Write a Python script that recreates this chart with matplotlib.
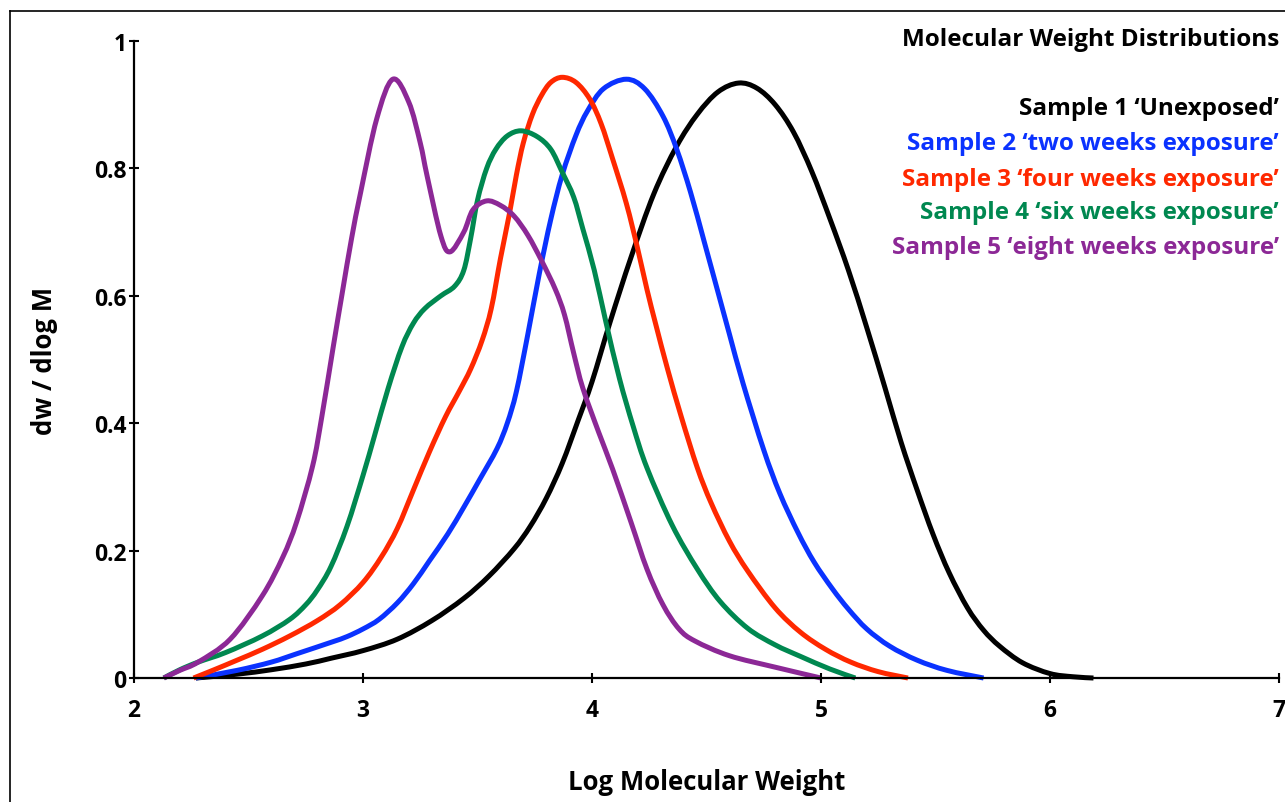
import matplotlib.pyplot as plt
from matplotlib.lines import Line2D
from matplotlib.path import Path
from matplotlib.patches import PathPatch

# curve values (log M, dw/dlogM)
s1_x = [2.27, 2.45, 2.6, 2.75, 2.86, 3.0, 3.15, 3.3, 3.44, 3.55, 3.66, 3.73, 3.80, 3.87, 3.94, 4.0,
        4.08, 4.17, 4.27, 4.37, 4.46, 4.55, 4.64, 4.72, 4.8, 4.88, 4.96, 5.04, 5.12, 5.2, 5.28,
        5.35, 5.42, 5.49, 5.56, 5.64, 5.71, 5.78, 5.88, 6.0, 6.1, 6.19]
s1_y = [0, 0.006, 0.013, 0.022, 0.031, 0.043, 0.061, 0.09, 0.125, 0.16, 0.203, 0.238, 0.282, 0.337,
        0.405, 0.465, 0.56, 0.66, 0.76, 0.835, 0.885, 0.92, 0.934, 0.926, 0.9, 0.857, 0.795, 0.72,
        0.64, 0.55, 0.455, 0.37, 0.295, 0.225, 0.165, 0.11, 0.075, 0.05, 0.024, 0.007, 0.002, 0]

s2_x = [2.27, 2.45, 2.6, 2.71, 2.86, 2.93, 3.0, 3.07, 3.15, 3.22, 3.29, 3.37, 3.44, 3.51, 3.585,
        3.63, 3.67, 3.72, 3.77, 3.82, 3.87, 3.93, 3.98, 4.05, 4.15, 4.23, 4.31, 4.37, 4.43, 4.49,
        4.55, 4.6, 4.66, 4.75, 4.82, 4.9, 4.97, 5.05, 5.12, 5.2, 5.3, 5.42, 5.55, 5.71]
s2_y = [0, 0.012, 0.025, 0.038, 0.056, 0.065, 0.077, 0.092, 0.118, 0.148, 0.184, 0.226, 0.268, 0.312,
        0.36, 0.4, 0.45, 0.54, 0.635, 0.72, 0.79, 0.852, 0.89, 0.925, 0.94, 0.925, 0.882, 0.83,
        0.763, 0.685, 0.606, 0.54, 0.462, 0.358, 0.29, 0.228, 0.182, 0.14, 0.108, 0.077, 0.05,
        0.028, 0.012, 0]

s3_x = [2.26, 2.35, 2.45, 2.56, 2.68, 2.8, 2.9, 3.0, 3.08, 3.15, 3.22, 3.29, 3.36, 3.42, 3.47,
        3.52, 3.56, 3.6, 3.64, 3.67, 3.7, 3.74, 3.78, 3.82, 3.87, 3.93, 3.99, 4.04, 4.09, 4.15,
        4.2, 4.24, 4.28, 4.33, 4.39, 4.46, 4.52, 4.6, 4.68, 4.8, 4.91, 5.02, 5.13, 5.25, 5.38]
s3_y = [0, 0.013, 0.028, 0.045, 0.066, 0.09, 0.115, 0.15, 0.19, 0.235, 0.295, 0.355, 0.41, 0.45,
        0.485, 0.53, 0.58, 0.658, 0.73, 0.79, 0.84, 0.885, 0.915, 0.935, 0.943, 0.935, 0.909, 0.87,
        0.815, 0.745, 0.673, 0.61, 0.553, 0.485, 0.41, 0.33, 0.275, 0.215, 0.168, 0.11, 0.072,
        0.045, 0.025, 0.01, 0]

s4_x = [2.13, 2.2, 2.28, 2.4, 2.56, 2.68, 2.75, 2.8, 2.86, 2.93, 3.0, 3.05, 3.11, 3.17, 3.22,
        3.27, 3.34, 3.4, 3.44, 3.47, 3.5, 3.54, 3.58, 3.63, 3.69, 3.76, 3.82, 3.87, 3.92, 3.96,
        4.01, 4.06, 4.12, 4.18, 4.24, 4.35, 4.46, 4.56, 4.68, 4.8, 4.91, 5.04, 5.15]
s4_y = [0, 0.013, 0.025, 0.04, 0.066, 0.092, 0.115, 0.138, 0.175, 0.238, 0.318, 0.38, 0.455, 0.52,
        0.557, 0.58, 0.6, 0.615, 0.64, 0.69, 0.75, 0.8, 0.83, 0.851, 0.859, 0.85, 0.83, 0.794, 0.755,
        0.705, 0.64, 0.56, 0.47, 0.395, 0.33, 0.24, 0.171, 0.12, 0.078, 0.052, 0.034, 0.014, 0]

s5_x = [2.13, 2.2, 2.28, 2.42, 2.56, 2.65, 2.71, 2.78, 2.82, 2.87, 2.91, 2.95, 2.99, 3.06, 3.13,
        3.2, 3.25, 3.28, 3.34, 3.38, 3.44, 3.48, 3.54, 3.6, 3.66, 3.72, 3.78, 3.84, 3.88, 3.92,
        3.96, 4.03, 4.09, 4.17, 4.24, 4.31, 4.38, 4.45, 4.6, 4.8, 5.0]
s5_y = [0, 0.012, 0.025, 0.061, 0.129, 0.19, 0.245, 0.333, 0.41, 0.52, 0.606, 0.69, 0.763, 0.878,
        0.94, 0.904, 0.84, 0.788, 0.694, 0.669, 0.7, 0.735, 0.749, 0.742, 0.725, 0.695, 0.655, 0.61,
        0.57, 0.51, 0.455, 0.385, 0.328, 0.245, 0.171, 0.115, 0.077, 0.058, 0.035, 0.017, 0]

labels = ["Sample 1 \u2018Unexposed\u2019",
          "Sample 2 \u2018two weeks exposure\u2019",
          "Sample 3 \u2018four weeks exposure\u2019",
          "Sample 4 \u2018six weeks exposure\u2019",
          "Sample 5 \u2018eight weeks exposure\u2019"]
colors = ["#000000", "#0a32ff", "#ff2800", "#008850", "#8c2896"]

x_ticks = [2, 3, 4, 5, 6, 7]
y_ticks = [0, 0.2, 0.4, 0.6, 0.8, 1]
y_ticklabels = ["0", "0.2", "0.4", "0.6", "0.8", "1"]


def smooth_path(xs, ys):
    # spreadsheet-style smoothed line: cubic bezier through every read point
    n = len(xs)
    verts = [(xs[0], ys[0])]
    codes = [Path.MOVETO]
    for i in range(n - 1):
        x0, y0 = (xs[i - 1], ys[i - 1]) if i > 0 else (xs[i], ys[i])
        x3, y3 = (xs[i + 2], ys[i + 2]) if i + 2 < n else (xs[i + 1], ys[i + 1])
        verts += [(xs[i] + (xs[i + 1] - x0) / 6, ys[i] + (ys[i + 1] - y0) / 6),
                  (xs[i + 1] - (x3 - xs[i]) / 6, ys[i + 1] - (y3 - ys[i]) / 6),
                  (xs[i + 1], ys[i + 1])]
        codes += [Path.CURVE4] * 3
    return Path(verts, codes)


plt.rcParams['font.family'] = ['Open Sans', 'DejaVu Sans']
plt.rcParams['font.weight'] = 'bold'

fig = plt.figure(figsize=(12.85, 8.03), dpi=100)
ax = fig.add_axes([0.1043, 0.1544, 0.891, 0.7933])

series = [(s1_x, s1_y), (s2_x, s2_y), (s3_x, s3_y), (s4_x, s4_y), (s5_x, s5_y)]
for (xs, ys), c in zip(series, colors):
    ax.add_patch(PathPatch(smooth_path(xs, ys), facecolor='none', edgecolor=c, lw=3.6,
                           capstyle='butt', joinstyle='round', clip_on=False))

ax.set_xlim(2, 7)
ax.set_ylim(0, 1)
ax.set_xticks(x_ticks)
ax.set_yticks(y_ticks)
ax.set_yticklabels(y_ticklabels)
for s in ['top', 'right']:
    ax.spines[s].set_visible(False)
for s in ['left', 'bottom']:
    ax.spines[s].set_linewidth(1.6)
ax.tick_params(axis='both', direction='inout', length=7, width=1.5, labelsize=16.5)
ax.tick_params(axis='x', pad=11)
ax.tick_params(axis='y', pad=2)

ax.set_xlabel("Log Molecular Weight", fontsize=18.5, fontweight='bold', va='center')
ax.xaxis.set_label_coords(0.5, -0.162)
ax.set_ylabel("dw / dlog M", fontsize=18.5, fontweight='bold', va='center')
ax.yaxis.set_label_coords(-0.078, 0.5)

# title and colored key, right aligned
ax.text(1.0, 1.003, "Molecular Weight Distributions", transform=ax.transAxes,
        ha='right', va='center', fontsize=17.5, fontweight='bold', color='black')
key_y = [0.895, 0.84, 0.784, 0.731, 0.676]
for lab, c, yy in zip(labels, colors, key_y):
    ax.text(1.0, yy, lab, transform=ax.transAxes, ha='right', va='center',
            fontsize=17.5, fontweight='bold', color=c)

# frame around the chart area (cut off at right and bottom)
fig.add_artist(Line2D([0.0078, 0.0078], [0, 0.985], transform=fig.transFigure, color='black', lw=1.2))
fig.add_artist(Line2D([0.0078, 1], [0.985, 0.985], transform=fig.transFigure, color='black', lw=1.2))

fig.savefig('out.png', dpi=100)
